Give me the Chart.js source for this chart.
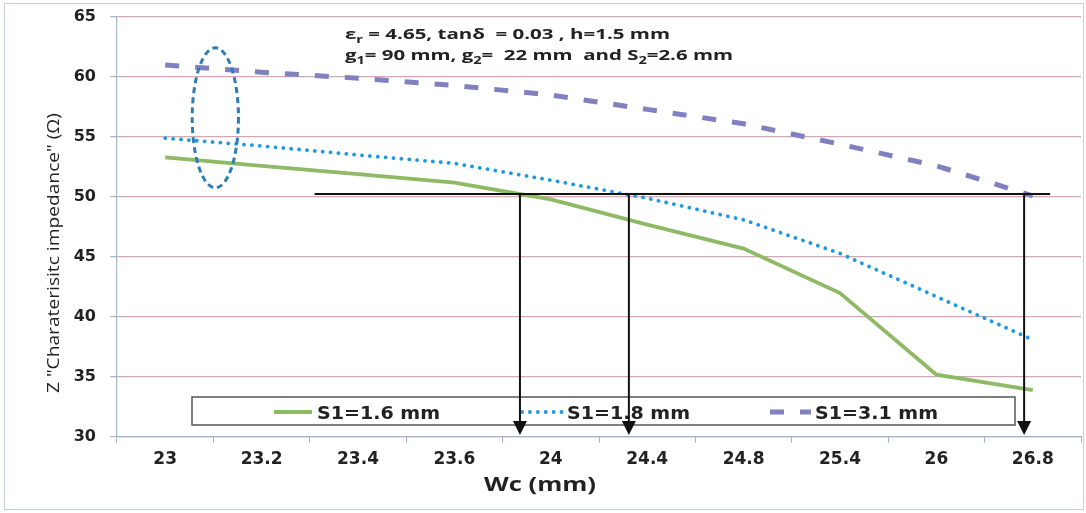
<!DOCTYPE html>
<html>
<head>
<meta charset="utf-8">
<script src="https://cdn.jsdelivr.net/npm/chart.js@4"></script>
<style>
  html, body { margin: 0; padding: 0; background: #fff; }
  #wrap { width: 1086px; height: 513px; }
</style>
</head>
<body>
<div id="wrap"><canvas id="zChart" width="1086" height="513"></canvas></div>
<script>
// values
const wcLabels = ['23', '23.2', '23.4', '23.6', '24', '24.4', '24.8', '25.4', '26', '26.8'];
const s1_16 = [53.3, 52.6, 51.9, 51.2, 49.8, 47.7, 45.7, 42.0, 35.2, 33.9];
const s1_18 = [54.9, 54.25, 53.5, 52.8, 51.4, 49.9, 48.1, 45.3, 41.7, 38.1];
const s1_31 = [61.0, 60.4, 59.9, 59.3, 58.5, 57.3, 56.1, 54.4, 52.6, 50.1];
const seriesNames = ['S1=1.6 mm', 'S1=1.8 mm', 'S1=3.1 mm'];

// 50 ohm read-off lines (x as category index, y in ohm)
const refLevel = 50.25;
const refSpan = [1.55, 9.18];
const refArrows = [3.68, 4.81, 8.91];
// dashed ring round the first points
const ringCenter = [0.52, 56.6];
const ringRadius = [0.24, 5.83];

const axisCol = '#a3b7cc';

// draw a line of text (with optional subscripts) stretched to a given width
function fitText(c, runs, font, subFont, width) {
  let total = 0;
  runs.forEach(r => { c.font = r[1] ? subFont : font; total += c.measureText(r[0]).width; });
  c.scale(width / total, 1);
  let cx = 0;
  runs.forEach(r => {
    c.font = r[1] ? subFont : font;
    c.fillText(r[0], cx, r[1] ? 4 : 0);
    cx += c.measureText(r[0]).width;
  });
}

const extras = {
  id: 'extras',
  beforeDraw(chart) {
    const c = chart.ctx;
    c.save();
    c.fillStyle = '#fff';
    c.fillRect(0, 0, chart.width, chart.height);
    c.strokeStyle = '#c3cfdc';
    c.lineWidth = 1;
    c.strokeRect(4.5, 3.5, 1079, 506);
    c.restore();
  },
  afterDatasetsDraw(chart) {
    const c = chart.ctx, xs = chart.scales.x, ys = chart.scales.y;
    const ds = chart.data.datasets;

    // legend box
    c.save();
    c.fillStyle = '#fff';
    c.fillRect(192, 397, 823, 28);
    c.strokeStyle = '#555';
    c.lineWidth = 1.5;
    c.strokeRect(192, 397, 823, 28);
    const items = [[274, 312, 317], [522, 562, 567], [770, 811, 815]];
    items.forEach((it, i) => {
      const d = ds[i];
      c.save();
      c.strokeStyle = d.borderColor;
      c.lineWidth = d.borderWidth;
      c.lineCap = d.borderCapStyle || 'butt';
      c.setLineDash(d.borderDash || []);
      c.beginPath(); c.moveTo(it[0], 412); c.lineTo(it[1], 412); c.stroke();
      c.restore();
      c.save();
      c.fillStyle = '#222';
      c.textBaseline = 'alphabetic';
      c.translate(it[2], 419);
      fitText(c, [[d.label]], 'bold 17px "DejaVu Sans"', '', 123);
      c.restore();
    });
    c.restore();

    // read-off lines and arrows
    c.save();
    c.strokeStyle = '#111';
    c.fillStyle = '#111';
    c.lineWidth = 2;
    const yRef = ys.getPixelForValue(refLevel);
    c.beginPath();
    c.moveTo(xs.getPixelForValue(refSpan[0]), yRef);
    c.lineTo(xs.getPixelForValue(refSpan[1]), yRef);
    c.stroke();
    const yEnd = ys.getPixelForValue(ys.min) - 2;
    refArrows.forEach(v => {
      const x = xs.getPixelForValue(v);
      c.beginPath(); c.moveTo(x, yRef); c.lineTo(x, yEnd - 12); c.stroke();
      c.beginPath();
      c.moveTo(x - 7, yEnd - 14); c.lineTo(x + 7, yEnd - 14); c.lineTo(x, yEnd);
      c.closePath(); c.fill();
    });
    c.restore();

    // ring
    c.save();
    const cx = xs.getPixelForValue(ringCenter[0]);
    const cy = ys.getPixelForValue(ringCenter[1]);
    const rx = xs.getPixelForValue(ringCenter[0] + ringRadius[0]) - cx;
    const ry = cy - ys.getPixelForValue(ringCenter[1] + ringRadius[1]);
    c.strokeStyle = '#2c7cb6';
    c.lineWidth = 3;
    c.setLineDash([6, 4]);
    c.beginPath(); c.ellipse(cx, cy, rx, ry, 0, 0, Math.PI * 2); c.stroke();
    c.restore();

    // parameter text
    c.save();
    c.fillStyle = '#222';
    const f = 'bold 14px "Open Sans"', sf = 'bold 10px "Open Sans"';
    c.save(); c.translate(345, 39);
    fitText(c, [['ε'], ['r', 1], [' = 4.65, tanδ  = 0.03 , h=1.5 mm']], f, sf, 325);
    c.restore();
    c.save(); c.translate(345, 60);
    fitText(c, [['g'], ['1', 1], ['= 90 mm, g'], ['2', 1], ['=  22 mm  and S'], ['2', 1], ['=2.6 mm']], f, sf, 388);
    c.restore();
    c.restore();

    // axis titles
    c.save();
    c.fillStyle = '#222';
    c.save(); c.translate(59, 393); c.rotate(-Math.PI / 2);
    fitText(c, [['Z "Charaterisitc impedance" (Ω)']], '17px "Open Sans"', '', 280);
    c.restore();
    c.save(); c.translate(484, 491);
    fitText(c, [['Wc (mm)']], 'bold 20px "Open Sans"', '', 112);
    c.restore();
    c.restore();
  }
};

new Chart(document.getElementById('zChart'), {
  type: 'line',
  data: {
    labels: wcLabels,
    datasets: [
      {
        label: seriesNames[0],
        data: s1_16,
        borderColor: '#8fba65',
        borderWidth: 3.8,
        pointRadius: 0,
        tension: 0
      },
      {
        label: seriesNames[1],
        data: s1_18,
        borderColor: '#1f9ae0',
        borderWidth: 3.8,
        borderDash: [0.1, 7.8],
        borderCapStyle: 'round',
        pointRadius: 0,
        tension: 0
      },
      {
        label: seriesNames[2],
        data: s1_31,
        borderColor: '#8181c2',
        borderWidth: 5,
        borderDash: [14, 16],
        pointRadius: 0,
        tension: 0
      }
    ]
  },
  options: {
    responsive: false,
    animation: false,
    devicePixelRatio: 1,
    layout: { padding: { top: 17, right: 5, left: 0, bottom: 0 } },
    plugins: {
      legend: { display: false },
      tooltip: { enabled: false }
    },
    scales: {
      x: {
        offset: true,
        grid: { display: true, drawOnChartArea: false, offset: true, tickLength: 6, color: axisCol },
        border: { color: axisCol, width: 1.2 },
        ticks: { color: '#222', padding: 6, maxRotation: 0, font: { family: 'DejaVu Sans', size: 17, weight: 'bold' } },
        afterFit(s) { s.height = 76; s.paddingLeft = 0; s.paddingRight = 0; }
      },
      y: {
        min: 30,
        max: 65,
        ticks: { stepSize: 5, color: '#222', padding: 14, font: { family: 'DejaVu Sans', size: 16, weight: 'bold' } },
        grid: { color: '#cfa9b3', tickColor: axisCol, tickLength: 7, lineWidth: 1.2 },
        border: { color: axisCol, width: 1.2 },
        afterFit(s) { s.width = 117; s.paddingTop = 0; s.paddingBottom = 0; }
      }
    }
  },
  plugins: [extras]
});
</script>
</body>
</html>
